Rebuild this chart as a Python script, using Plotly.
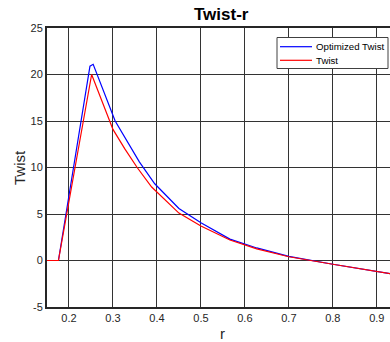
import plotly.graph_objects as go

# Data
r_opt = [0.15, 0.176, 0.2477, 0.255, 0.305, 0.33, 0.36, 0.395, 0.45, 0.50, 0.566, 0.627, 0.70, 0.80, 0.935]
twist_opt = [0, 0, 20.9, 21.1, 15.0, 13.0, 10.6, 8.25, 5.6, 4.05, 2.3, 1.35, 0.45, -0.4, -1.45]

r_tw = [0.15, 0.176, 0.2515, 0.300, 0.327, 0.355, 0.388, 0.45, 0.50, 0.566, 0.627, 0.70, 0.80, 0.935]
twist_tw = [0, 0, 20.0, 14.1, 12.0, 10.0, 7.9, 5.1, 3.7, 2.2, 1.25, 0.4, -0.4, -1.45]

series_names = ["Optimized Twist", "Twist"]
series_colors = ["#0000ff", "#ff0000"]

x_ticks = [0.2, 0.3, 0.4, 0.5, 0.6, 0.7, 0.8, 0.9]
y_ticks = [-5, 0, 5, 10, 15, 20, 25]

FONT = "Liberation Sans, Arial, Helvetica, sans-serif"

fig = go.Figure()
fig.add_trace(go.Scatter(x=r_opt, y=twist_opt, mode="lines", name=series_names[0],
                         line=dict(color=series_colors[0], width=1.2)))
fig.add_trace(go.Scatter(x=r_tw, y=twist_tw, mode="lines", name=series_names[1],
                         line=dict(color=series_colors[1], width=1.2)))

axis_common = dict(showgrid=True, gridcolor="#333333", gridwidth=1, zeroline=False,
                   ticks="", tickfont=dict(family=FONT, size=11, color="#262626"),
                   linecolor="#262626", linewidth=2, showline=True)

fig.update_xaxes(range=[0.15, 0.93], tickvals=x_ticks, ticktext=[str(v) for v in x_ticks],
                 mirror=True, **axis_common)
fig.update_yaxes(range=[-5, 25], tickvals=y_ticks, ticktext=[str(v) for v in y_ticks],
                 mirror=False, **axis_common)

# Legend (MATLAB style compact box)
L, T, H = 47, 28, 279
W = 343
def px(xp):
    return (xp - L) / W
def py(yp):
    return 1 - (yp - T) / H

shapes = [
    dict(type="rect", xref="paper", yref="paper", x0=px(277), x1=px(388), y0=py(68.5), y1=py(37.5),
         line=dict(color="#404040", width=1), fillcolor="white", layer="above"),
]
annotations = []
for i, (name, col) in enumerate(zip(series_names, series_colors)):
    yrow = 46.7 + i * 13.6
    shapes.append(dict(type="line", xref="paper", yref="paper", x0=px(280), x1=px(312),
                       y0=py(yrow), y1=py(yrow), line=dict(color=col, width=1.2), layer="above"))
    annotations.append(dict(text=name, x=px(313.5), y=py(yrow), xref="paper", yref="paper",
                            xanchor="left", yanchor="middle", showarrow=False,
                            font=dict(family=FONT, size=9.7, color="#000")))

annotations += [
    dict(text="<b>Twist-r</b>", x=px(221), y=py(15), xref="paper", yref="paper",
         xanchor="center", yanchor="middle", showarrow=False,
         font=dict(family=FONT, size=17, color="#000")),
    dict(text="r", x=px(222), y=py(333.5), xref="paper", yref="paper",
         xanchor="center", yanchor="middle", showarrow=False,
         font=dict(family=FONT, size=15, color="#262626")),
    dict(text="Twist", x=px(19.5), y=0.5, xref="paper", yref="paper", textangle=-90,
         xanchor="center", yanchor="middle", showarrow=False,
         font=dict(family=FONT, size=15, color="#262626")),
]

fig.update_layout(
    width=390, height=342,
    margin=dict(l=47, r=0, t=28, b=35),
    paper_bgcolor="white", plot_bgcolor="white",
    font=dict(family=FONT, color="#000"),
    showlegend=False,
    shapes=shapes,
    annotations=annotations,
)

fig.write_html("out.html", config={"displayModeBar": False},
               post_script="document.body.style.margin='0';document.body.style.overflow='hidden';")
